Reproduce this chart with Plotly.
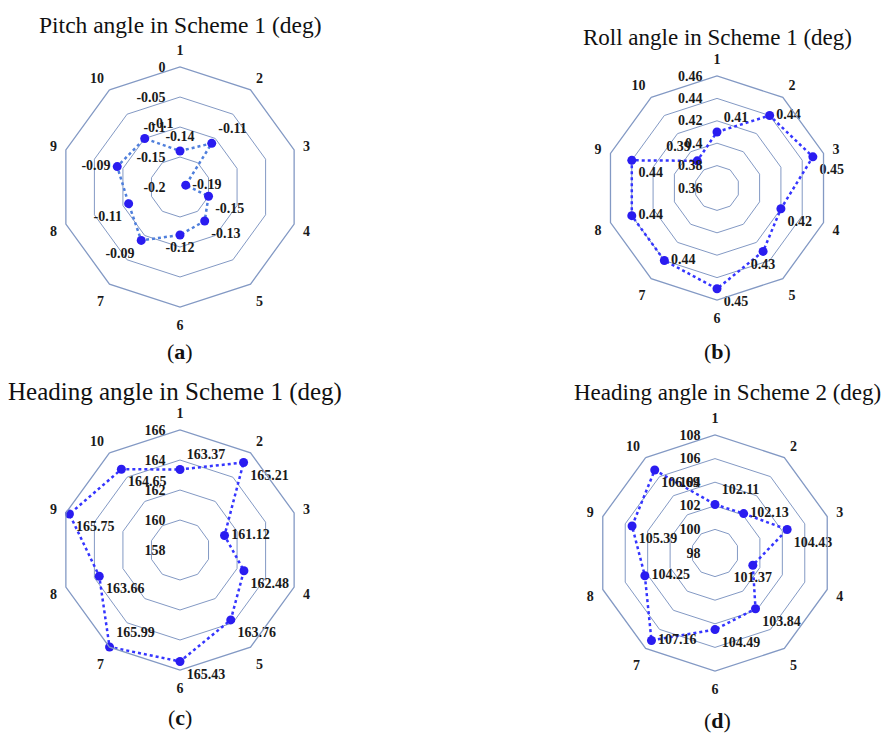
import plotly.graph_objects as go

categories = ["1", "2", "3", "4", "5", "6", "7", "8", "9", "10"]

pitch_s1 = [-0.14, -0.11, -0.19, -0.15, -0.13, -0.12, -0.09, -0.11, -0.09, -0.1]
roll_s1 = [0.41, 0.44, 0.45, 0.42, 0.43, 0.45, 0.44, 0.44, 0.44, 0.39]
heading_s1 = [163.37, 165.21, 161.12, 162.48, 163.76, 165.43, 165.99, 163.66, 165.75, 164.65]
heading_s2 = [102.11, 102.13, 104.43, 101.37, 103.84, 104.49, 107.16, 104.25, 105.39, 106.69]

pitch_ticks = [-0.2, -0.15, -0.1, -0.05, 0]
roll_ticks = [0.36, 0.38, 0.4, 0.42, 0.44, 0.46]
heading_s1_ticks = [158, 160, 162, 164, 166]
heading_s2_ticks = [98, 100, 102, 104, 106, 108]

titles = ["Pitch angle in Scheme 1 (deg)", "Roll angle in Scheme 1 (deg)",
          "Heading angle in Scheme 1 (deg)", "Heading angle in Scheme 2 (deg)"]
panel_letters = ["a", "b", "c", "d"]

pos_pitch = ["top center", "top right", "middle right", "bottom right", "bottom right",
             "bottom center", "bottom left", "bottom left", "middle left", "top right"]
pos_roll = ["top right", "middle right", "bottom right", "bottom right", "bottom center",
            "bottom right", "middle right", "middle right", "bottom right", "top left"]
pos_h1 = ["top right", "bottom right", "middle right", "bottom right", "bottom right",
          "bottom right", "top right", "bottom right", "bottom right", "bottom right"]
pos_h2 = ["top right", "middle right", "bottom right", "bottom center", "bottom right",
          "bottom right", "middle right", "middle right", "bottom right", "bottom right"]

W, H = 890, 738
# (center x px, center y px, radius px)
geo = [(180, 187, 120), (717, 188, 112), (180, 550, 120), (715, 553, 118)]
title_y = [25, 37, 392, 392]
title_x = [180, 717, 175, 727]
title_size = [23.5, 23, 25, 23]
letter_y = [352, 352, 717, 720]
letter_x = [180, 717, 180, 717]

series = [pitch_s1, roll_s1, heading_s1, heading_s2]
ticks = [pitch_ticks, roll_ticks, heading_s1_ticks, heading_s2_ticks]
positions = [pos_pitch, pos_roll, pos_h1, pos_h2]
line_colors = ["#4f7fdc", "#3535ff", "#3535ff", "#3535ff"]

GRID = "#8399c4"
FONT = "Liberation Serif"
TXT = "#1a1a1a"
CLEAR = "rgba(0,0,0,0)"

fig = go.Figure()
layout = dict(width=W, height=H, margin=dict(l=0, r=0, t=0, b=0),
              paper_bgcolor="white", plot_bgcolor="white", showlegend=False)
annotations = []

for i in range(4):
    name = "polar" if i == 0 else f"polar{i+1}"
    cx, cy, R = geo[i]
    domain = dict(x=[(cx - R) / W, (cx + R) / W], y=[1 - (cy + R) / H, 1 - (cy - R) / H])
    rng = [ticks[i][0], ticks[i][-1]]
    vals = series[i]
    # marker layer: for negative radial ranges use a transparent circular overlay subplot
    mark_name = "polar5" if i == 0 else name
    fig.add_trace(go.Scatterpolar(
        r=vals + vals[:1], theta=categories + categories[:1], mode="lines",
        line=dict(color=line_colors[i], width=2.5, dash="dot"),
        subplot=name, hoverinfo="skip"))
    fig.add_trace(go.Scatterpolar(
        r=vals, theta=categories, mode="markers+text",
        marker=dict(color="#2a1cf0", size=9),
        text=[f"{v:g}" for v in vals], textposition=positions[i],
        textfont=dict(family=FONT, size=14, color=TXT, weight="bold"),
        subplot=mark_name))
    layout[name] = dict(
        domain=domain, gridshape="linear", bgcolor="white",
        radialaxis=dict(range=rng, tickvals=ticks[i],
                        ticktext=[f"{t:g}" for t in ticks[i]],
                        showline=False, ticks="outside", ticklen=9, tickcolor=CLEAR,
                        gridcolor=GRID, gridwidth=1.2,
                        angle=90, side="counterclockwise", tickangle=90,
                        tickfont=dict(family=FONT, size=14, color=TXT, weight="bold")),
        angularaxis=dict(type="category", categoryarray=categories, rotation=90,
                         direction="clockwise", showgrid=False, showline=True,
                         linecolor=GRID, linewidth=1.3, ticks="outside", ticklen=6,
                         tickcolor=CLEAR,
                         tickfont=dict(family=FONT, size=14, color=TXT, weight="bold")))
    if i == 0:
        layout["polar5"] = dict(
            domain=domain, gridshape="circular", bgcolor=CLEAR,
            radialaxis=dict(range=rng, showline=False, showgrid=False, ticks="",
                            showticklabels=False),
            angularaxis=dict(type="category", categoryarray=categories, rotation=90,
                             direction="clockwise", showgrid=False, showline=False,
                             ticks="", showticklabels=False))
    annotations.append(dict(text=titles[i], x=title_x[i] / W, y=1 - title_y[i] / H,
                            xref="paper", yref="paper", showarrow=False,
                            xanchor="center", yanchor="middle",
                            font=dict(family=FONT, size=title_size[i], color="#111")))
    annotations.append(dict(text=f"(<b>{panel_letters[i]}</b>)", x=letter_x[i] / W,
                            y=1 - letter_y[i] / H, xref="paper", yref="paper", showarrow=False,
                            xanchor="center", yanchor="middle",
                            font=dict(family=FONT, size=22, color="#111")))

layout["annotations"] = annotations
fig.update_layout(**layout)
fig.write_html("out.html", config={"displayModeBar": False},
               post_script="document.body.style.margin='0';")
